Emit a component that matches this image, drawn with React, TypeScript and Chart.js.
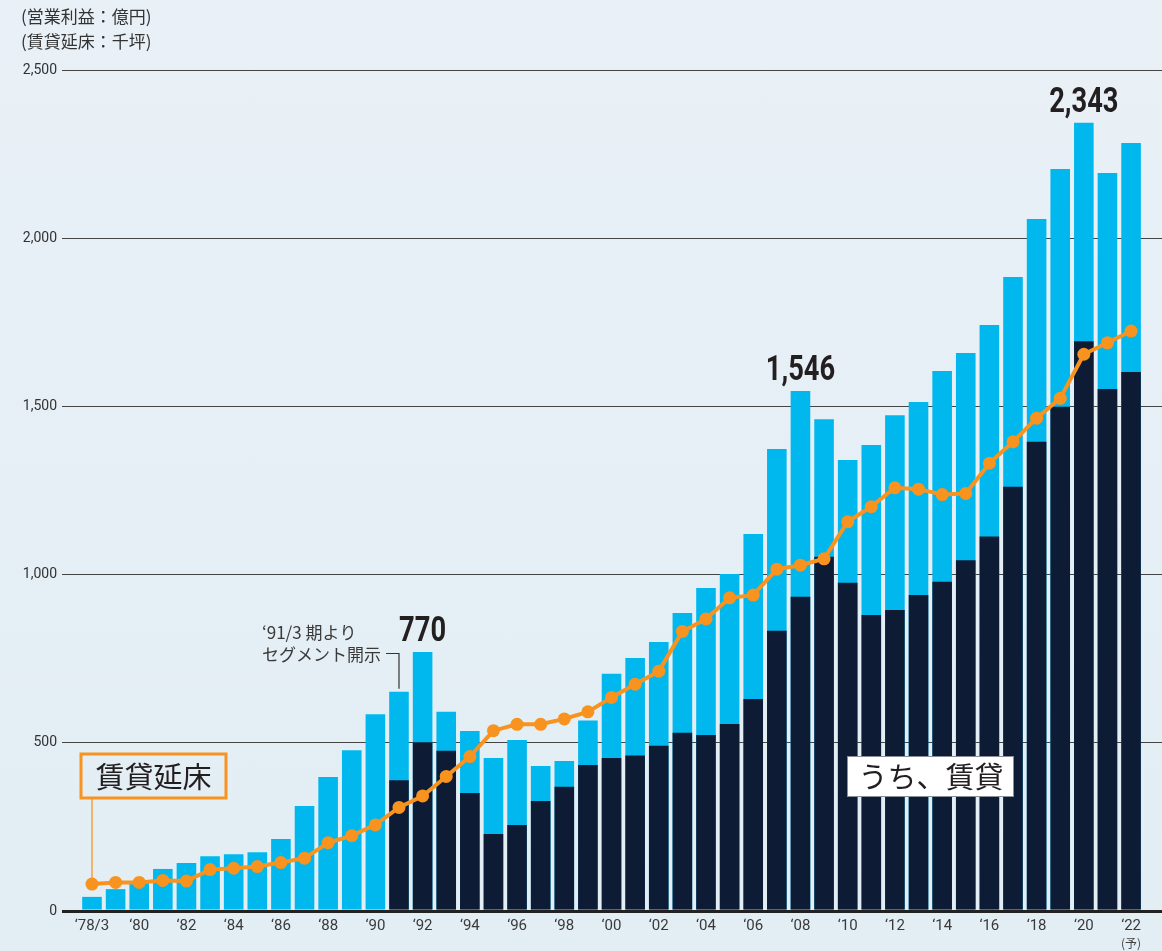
import React, { useEffect, useRef } from "react";
import { Chart, registerables } from "chart.js";

Chart.register(...registerables);

// ---- data ----
const years = [
  "78", "79", "80", "81", "82", "83", "84", "85", "86", "87",
  "88", "89", "90", "91", "92", "93", "94", "95", "96", "97",
  "98", "99", "00", "01", "02", "03", "04", "05", "06", "07",
  "08", "09", "10", "11", "12", "13", "14", "15", "16", "17",
  "18", "19", "20", "21", "22",
];

const xTickLabels = [
  "‘78/3", "‘80", "‘82", "‘84", "‘86", "‘88", "‘90", "‘92", "‘94", "‘96", "‘98",
  "‘00", "‘02", "‘04", "‘06", "‘08", "‘10", "‘12", "‘14", "‘16", "‘18", "‘20", "‘22",
];

// 営業利益 (億円)
const operatingProfit = [
  42, 65, 85, 125, 143, 163, 169, 175, 214, 312,
  398, 478, 585, 652, 770, 592, 535, 455, 508, 431,
  446, 566, 705, 752, 800, 886, 960, 1002, 1121, 1373,
  1546, 1462, 1341, 1385, 1474, 1513, 1605, 1659, 1742, 1885,
  2057, 2206, 2343, 2194, 2283,
];

// うち、賃貸 (億円) — segment disclosed from '91/3
const rentalProfit = [
  null, null, null, null, null, null, null, null, null, null,
  null, null, null, 389, 502, 476, 351, 229, 256, 327,
  369, 434, 455, 462, 491, 530, 523, 556, 630, 833,
  934, 1053, 976, 880, 895, 939, 979, 1043, 1113, 1261,
  1395, 1499, 1694, 1552, 1602,
];

// 賃貸延床 (千坪)
const rentalFloorArea = [
  80, 85, 85, 91, 89, 123, 127, 132, 144, 157,
  203, 224, 256, 308, 342, 400, 459, 536, 555, 555,
  571, 592, 635, 674, 713, 831, 868, 931, 939, 1016,
  1028, 1047, 1157, 1202, 1258, 1254, 1238, 1241, 1331, 1395,
  1465, 1524, 1655, 1689, 1724,
];

const yTickValues = [0, 500, 1000, 1500, 2000, 2500];
const labeledYears = ["92", "08", "20"];

const CYAN = "#00b8ee";
const NAVY = "#0d1b35";
const ORANGE = "#f7931e";
const TEXT = "#231f20";

const annotationPlugin = {
  id: "annotations",
  afterDatasetsDraw(chart: any) {
    const { ctx } = chart;
    const x = chart.scales.x;
    const y = chart.scales.y;
    const jp = "'Noto Sans CJK JP', 'Noto Sans', sans-serif";

    ctx.save();

    // unit labels
    ctx.fillStyle = "#333";
    ctx.font = `17px ${jp}`;
    ctx.textAlign = "left";
    ctx.textBaseline = "middle";
    ctx.fillText("(営業利益：億円)", 21, 17);
    ctx.fillText("(賃貸延床：千坪)", 21, 42);

    // value labels above highlighted bars
    labeledYears.forEach((yr) => {
      const i = years.indexOf(yr);
      const v = operatingProfit[i];
      const px = x.getPixelForValue(i);
      const py = y.getPixelForValue(v) - 11;
      ctx.save();
      ctx.translate(px, py);
      ctx.scale(0.78, 1);
      ctx.font = "bold 35px Roboto, sans-serif";
      ctx.fillStyle = TEXT;
      ctx.textAlign = "center";
      ctx.textBaseline = "alphabetic";
      ctx.fillText(v.toLocaleString("en-US"), 0, 0);
      ctx.restore();
    });

    // '91/3 segment note
    const i91 = years.indexOf("91");
    const x91 = x.getPixelForValue(i91);
    const y91 = y.getPixelForValue(operatingProfit[i91]);
    ctx.fillStyle = "#3a3a3a";
    ctx.font = `17px ${jp}`;
    ctx.textAlign = "left";
    ctx.textBaseline = "middle";
    ctx.fillText("‘91/3 期より", 262, 633);
    ctx.fillText("セグメント開示", 262, 655);
    ctx.strokeStyle = "#333";
    ctx.lineWidth = 1.2;
    ctx.beginPath();
    ctx.moveTo(386, 653.5);
    ctx.lineTo(x91, 653.5);
    ctx.lineTo(x91, y91 - 3);
    ctx.stroke();

    // 賃貸延床 box + leader
    const x0 = x.getPixelForValue(0);
    const y0 = y.getPixelForValue(rentalFloorArea[0]);
    ctx.strokeStyle = ORANGE;
    ctx.lineWidth = 1.3;
    ctx.beginPath();
    ctx.moveTo(x0, 799);
    ctx.lineTo(x0, y0 - 5);
    ctx.stroke();
    ctx.lineWidth = 3;
    ctx.strokeRect(81, 754, 145, 44);
    ctx.fillStyle = TEXT;
    ctx.font = `29px ${jp}`;
    ctx.textAlign = "center";
    ctx.textBaseline = "middle";
    ctx.fillText("賃貸延床", 153.5, 777);

    // うち、賃貸 box
    ctx.fillStyle = "#ffffff";
    ctx.fillRect(847, 756, 167, 41);
    ctx.strokeStyle = "#8a8f96";
    ctx.lineWidth = 1;
    ctx.strokeRect(847.5, 756.5, 166, 40);
    ctx.fillStyle = TEXT;
    ctx.font = `29px ${jp}`;
    ctx.fillText("うち、賃貸", 931, 777);

    // (予) under '22
    const x22 = x.getPixelForValue(years.indexOf("22"));
    ctx.fillStyle = "#444";
    ctx.font = `12px ${jp}`;
    ctx.fillText("(予)", x22, 943);

    ctx.restore();
  },
};

export default function App() {
  const canvasRef = useRef<HTMLCanvasElement | null>(null);

  useEffect(() => {
    if (!canvasRef.current) return;
    const idx = years.map((_, i) => i);
    const chart = new Chart(canvasRef.current, {
      type: "bar",
      data: {
        datasets: [
          {
            type: "line",
            label: "賃貸延床",
            data: idx.map((i) => ({ x: i, y: rentalFloorArea[i] })),
            borderColor: ORANGE,
            backgroundColor: ORANGE,
            borderWidth: 4,
            pointRadius: 6.5,
            pointBackgroundColor: ORANGE,
            pointBorderWidth: 0,
            tension: 0,
            order: 0,
          } as any,
          {
            type: "bar",
            label: "うち、賃貸",
            data: idx.map((i) => ({ x: i, y: rentalProfit[i] })),
            backgroundColor: NAVY,
            grouped: false,
            barPercentage: 0.83,
            categoryPercentage: 1,
            order: 1,
          } as any,
          {
            type: "bar",
            label: "営業利益",
            data: idx.map((i) => ({ x: i, y: operatingProfit[i] })),
            backgroundColor: CYAN,
            grouped: false,
            barPercentage: 0.83,
            categoryPercentage: 1,
            order: 2,
          } as any,
        ],
      },
      options: {
        animation: false,
        responsive: true,
        maintainAspectRatio: false,
        layout: { autoPadding: false, padding: { top: 70, right: 0, bottom: 0, left: 0 } },
        plugins: {
          legend: { display: false },
          tooltip: { enabled: false },
        },
        scales: {
          x: {
            type: "linear",
            offset: false,
            min: -1.27,
            max: 45.31,
            grid: { display: false, drawTicks: false, offset: false },
            border: { display: false },
            afterBuildTicks: (scale: any) => {
              scale.ticks = xTickLabels.map((_, k) => ({ value: k * 2 }));
            },
            afterFit: (scale: any) => {
              scale.height = 40;
              scale.paddingLeft = 0;
              scale.paddingRight = 0;
            },
            ticks: {
              autoSkip: false,
              maxRotation: 0,
              padding: 6,
              color: "#3a3a3a",
              font: { family: "Roboto, sans-serif", size: 15 },
              callback: (_v: any, i: number) => xTickLabels[i],
            },
          },
          y: {
            min: 0,
            max: 2500,
            afterBuildTicks: (scale: any) => {
              scale.ticks = yTickValues.map((v) => ({ value: v }));
            },
            afterFit: (scale: any) => {
              scale.width = 62;
            },
            grid: {
              drawTicks: false,
              color: (c: any) => (c.tick && c.tick.value === 0 ? "#222" : "#444"),
              lineWidth: (c: any) => (c.tick && c.tick.value === 0 ? 3 : 1),
            },
            border: { display: false },
            ticks: {
              padding: 5,
              color: "#333",
              font: { family: "Roboto, sans-serif", size: 14 },
              callback: (v: any) => Number(v).toLocaleString("en-US"),
            },
          },
        },
      },
      plugins: [annotationPlugin],
    });
    return () => chart.destroy();
  }, []);

  return (
    <div
      style={{
        position: "absolute",
        left: 0,
        top: 0,
        width: 1162,
        height: 951,
        background: "linear-gradient(180deg, #e9f1f7 0%, #e2edf4 100%)",
      }}
    >
      <canvas ref={canvasRef} />
    </div>
  );
}
